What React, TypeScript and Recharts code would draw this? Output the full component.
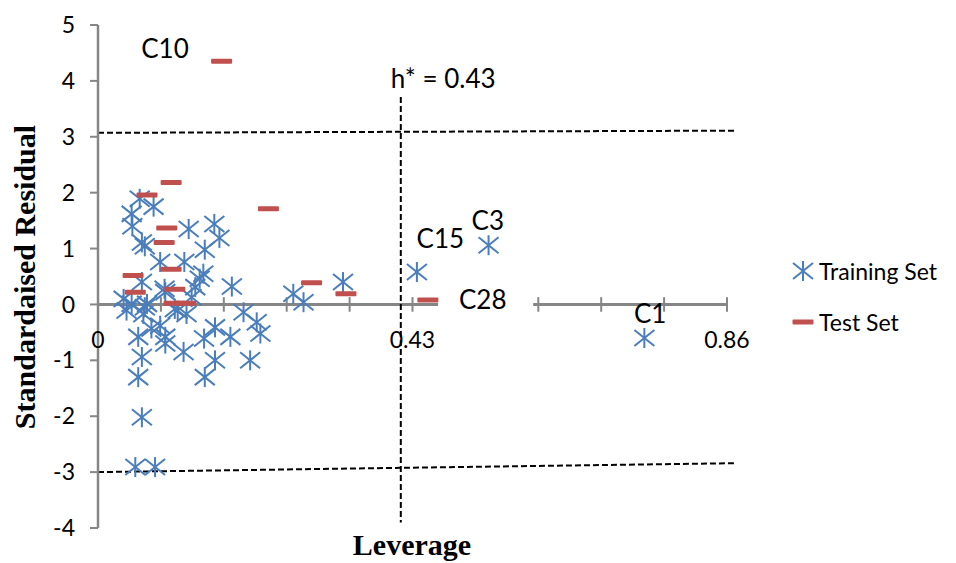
import React from 'react';
import { ScatterChart, Scatter, XAxis, YAxis, ReferenceLine, ReferenceDot } from 'recharts';

// leverage / standardised residual
const trainingLeverage = [
  0.057, 0.076, 0.046, 0.047, 0.060, 0.064, 0.124, 0.159, 0.166, 0.146,
  0.085, 0.118, 0.139, 0.133, 0.183, 0.128, 0.091, 0.060, 0.035, 0.046,
  0.064, 0.105, 0.121, 0.039, 0.062, 0.073, 0.085, 0.055, 0.092, 0.117,
  0.145, 0.160, 0.181, 0.060, 0.160, 0.208, 0.055, 0.146, 0.199, 0.217,
  0.222, 0.060, 0.051, 0.078, 0.267, 0.281, 0.335, 0.436, 0.534, 0.747,
  0.092, 0.067, 0.144, 0.109, 0.092,
];
const trainingResidual = [
  1.89, 1.75, 1.62, 1.40, 1.11, 1.04, 1.35, 1.44, 1.19, 0.98,
  0.76, 0.76, 0.46, 0.31, 0.32, 0.13, 0.28, 0.40, 0.10, 0.01,
  -0.05, -0.08, -0.17, -0.11, -0.17, -0.43, -0.38, -0.58, -0.70, -0.85,
  -0.61, -0.41, -0.58, -0.94, -1.0, -1.0, -1.30, -1.30, -0.14, -0.32,
  -0.52, -2.02, -2.91, -2.91, 0.19, 0.04, 0.40, 0.58, 1.06, -0.60,
  0.22, 0.01, 0.55, -0.11, -0.58,
];
const testLeverage = [0.169, 0.100, 0.067, 0.233, 0.094, 0.0905, 0.100, 0.048, 0.105, 0.051, 0.104, 0.120, 0.292, 0.339, 0.451];
const testResidual = [4.35, 2.18, 1.96, 1.71, 1.37, 1.11, 0.63, 0.52, 0.27, 0.22, 0.02, 0.02, 0.39, 0.19, 0.08];

const yTicks = [-4, -3, -2, -1, 0, 1, 2, 3, 4, 5];
const xMinorTicks = [0.086, 0.172, 0.258, 0.344, 0.43, 0.516, 0.602, 0.688, 0.774, 0.86];
const xTickLabels = [
  { value: 0, text: '0' },
  { value: 0.43, text: '0.43' },
  { value: 0.86, text: '0.86' },
];
const compoundLabels = [
  { text: 'C10', x: 0.0916, y: 4.58 },
  { text: 'h* = 0.43', x: 0.472, y: 4.04 },
  { text: 'C15', x: 0.468, y: 1.18 },
  { text: 'C3', x: 0.533, y: 1.5 },
  { text: 'C28', x: 0.526, y: 0.09 },
  { text: 'C1', x: 0.755, y: -0.16 },
];

const trainingData = trainingLeverage.map((x, i) => ({ x, y: trainingResidual[i] }));
const testData = testLeverage.map((x, i) => ({ x, y: testResidual[i] }));

const BLUE = '#4A7EBB';
const RED = '#C0504D';
const GREY = '#868686';

const Asterisk = (props: any) => {
  const { cx, cy } = props;
  return (
    <g stroke={BLUE} strokeWidth={2}>
      <line x1={cx} y1={cy - 10} x2={cx} y2={cy + 10} />
      <line x1={cx - 10} y1={cy - 8} x2={cx + 10} y2={cy + 8} />
      <line x1={cx - 10} y1={cy + 8} x2={cx + 10} y2={cy - 8} />
    </g>
  );
};

const Dash = (props: any) => {
  const { cx, cy } = props;
  return <rect x={cx - 10.5} y={cy - 2.5} width={21} height={5} rx={1} fill={RED} />;
};

const titleStyle: React.CSSProperties = {
  position: 'absolute',
  whiteSpace: 'nowrap',
  fontFamily: '"Liberation Serif", serif',
  fontWeight: 'bold',
  fontSize: 30,
  lineHeight: '30px',
};

export default function App() {
  return (
    <div style={{ position: 'absolute', left: 0, top: 0, width: 956, height: 563, overflow: 'hidden', fontFamily: 'Lato', background: '#fff' }}>
      <ScatterChart width={956} height={563} margin={{ top: 25, right: 229, bottom: 35, left: 38 }}>
        <XAxis type="number" dataKey="x" domain={[0, 0.86]} hide allowDataOverflow />
        <YAxis
          type="number"
          dataKey="y"
          domain={[-4, 5]}
          ticks={yTicks}
          interval={0}
          width={60}
          tickSize={8}
          tickMargin={15}
          axisLine={{ stroke: GREY, strokeWidth: 2.5 }}
          tickLine={{ stroke: GREY, strokeWidth: 2 }}
          tick={{ fill: '#000', fontSize: 23 }}
          allowDataOverflow
        />

        {/* x axis drawn through y = 0, broken where the C28 label sits */}
        <ReferenceLine segment={[{ x: 0, y: 0 }, { x: 0.465, y: 0 }]} stroke={GREY} strokeWidth={3} />
        <ReferenceLine segment={[{ x: 0.595, y: 0 }, { x: 0.86, y: 0 }]} stroke={GREY} strokeWidth={3} />
        {xMinorTicks
          .filter((t) => t < 0.465 || t > 0.595)
          .map((t) => (
            <ReferenceLine key={t} segment={[{ x: t, y: -0.13 }, { x: t, y: 0.13 }]} stroke={GREY} strokeWidth={2} />
          ))}

        {/* warning / threshold lines */}
        <ReferenceLine segment={[{ x: 0, y: 3.07 }, { x: 0.871, y: 3.11 }]} stroke="#000" strokeWidth={2} strokeDasharray="6 3" ifOverflow="visible" />
        <ReferenceLine segment={[{ x: 0, y: -3.0 }, { x: 0.871, y: -2.84 }]} stroke="#000" strokeWidth={2} strokeDasharray="6 3" ifOverflow="visible" />
        <ReferenceLine segment={[{ x: 0.414, y: 3.71 }, { x: 0.414, y: -3.9 }]} stroke="#000" strokeWidth={2} strokeDasharray="6 3" />

        <Scatter name="Training Set" data={trainingData} shape={<Asterisk />} isAnimationActive={false} />
        <Scatter name="Test Set" data={testData} shape={<Dash />} isAnimationActive={false} />

        {xTickLabels.map((t) => (
          <ReferenceDot
            key={t.text}
            x={t.value}
            y={-0.64}
            r={0}
            fill="none"
            stroke="none"
            ifOverflow="visible"
            label={{ value: t.text, position: 'center', fill: '#000', fontSize: 23 }}
          />
        ))}
        {compoundLabels.map((l) => (
          <ReferenceDot
            key={l.text}
            x={l.x}
            y={l.y}
            r={0}
            fill="none"
            stroke="none"
            ifOverflow="visible"
            label={{ value: l.text, position: 'center', fill: '#000', fontSize: 26 }}
          />
        ))}
      </ScatterChart>

      <div style={{ ...titleStyle, left: 25, top: 277, transform: 'translate(-50%, -50%) rotate(-90deg)' }}>
        Standardaised Residual
      </div>
      <div style={{ ...titleStyle, left: 412, top: 530, transform: 'translateX(-50%)' }}>Leverage</div>

      {/* legend */}
      <div style={{ position: 'absolute', left: 791, top: 259, display: 'flex', alignItems: 'center', fontSize: 23, lineHeight: '24px' }}>
        <svg width={24} height={24}>
          <Asterisk cx={12} cy={12} />
        </svg>
        <span style={{ marginLeft: 4 }}>Training Set</span>
      </div>
      <div style={{ position: 'absolute', left: 791, top: 310, display: 'flex', alignItems: 'center', fontSize: 23, lineHeight: '24px' }}>
        <svg width={24} height={24}>
          <Dash cx={12} cy={12} />
        </svg>
        <span style={{ marginLeft: 4 }}>Test Set</span>
      </div>
    </div>
  );
}
